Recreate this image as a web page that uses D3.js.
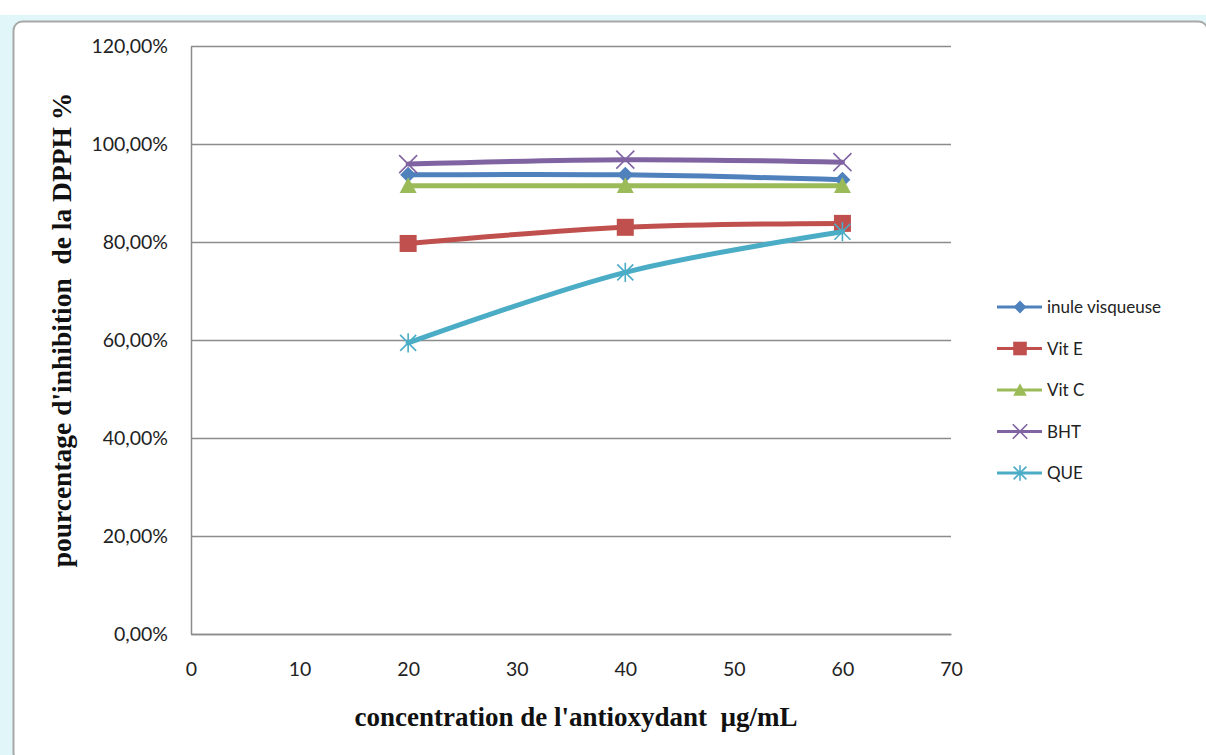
<!DOCTYPE html>
<html>
<head>
<meta charset="utf-8">
<script src="https://cdn.jsdelivr.net/npm/d3@7"></script>
<style>
  html, body { margin: 0; padding: 0; background: #fff; }
  svg { display: block; }
</style>
</head>
<body>
<svg id="chart" width="1206" height="755"></svg>
<script>
// Concentrations (µg/mL)
const concentrations = [20, 40, 60];

// Inhibition of DPPH (%) per antioxidant
const inuleVisqueuse = [93.7, 93.7, 92.7];
const vitE = [79.7, 83.0, 83.8];
const vitC = [91.5, 91.5, 91.5];
const bht = [95.9, 96.8, 96.3];
const que = [59.4, 73.8, 82.1];

const seriesNames = ["inule visqueuse", "Vit E", "Vit C", "BHT", "QUE"];
const seriesValues = [inuleVisqueuse, vitE, vitC, bht, que];
const seriesColors = ["#4F81BD", "#C0504D", "#9BBB59", "#8064A2", "#4BACC6"];
const seriesMarkers = ["diamond", "square", "triangle", "cross", "asterisk"];

const xTicks = [0, 10, 20, 30, 40, 50, 60, 70];
const yTicks = [0, 20, 40, 60, 80, 100, 120];

const svg = d3.select("#chart");

// Window frame
svg.append("rect").attr("x", 0).attr("y", 15).attr("width", 1206).attr("height", 740)
  .attr("fill", "#e0f6f8");
svg.append("rect").attr("x", 13.5).attr("y", 21.5).attr("width", 1194).attr("height", 740)
  .attr("rx", 9).attr("fill", "#fff").attr("stroke", "#a8a8a8").attr("stroke-width", 2);

const plot = { left: 191, right: 951, top: 46, bottom: 634 };

const x = d3.scaleLinear().domain([0, 70]).range([plot.left, plot.right]);
const y = d3.scaleLinear().domain([0, 120]).range([plot.bottom, plot.top]);

const fmtPct = d => d3.format(".2f")(d).replace(".", ",") + "%";
const tickFont = "Lato, 'Open Sans', sans-serif";

// Horizontal gridlines
svg.append("g")
  .attr("transform", `translate(${plot.left},0)`)
  .call(d3.axisLeft(y).tickValues(yTicks).tickSize(-(plot.right - plot.left)).tickFormat(""))
  .call(g => g.select(".domain").remove())
  .call(g => g.selectAll("line").attr("stroke", "#8c8c8c").attr("stroke-width", 1.5));

// Y axis
const yAxis = svg.append("g")
  .attr("transform", `translate(${plot.left},0)`)
  .call(d3.axisLeft(y).tickValues(yTicks).tickSize(0).tickPadding(23).tickFormat(fmtPct));
yAxis.select(".domain").attr("stroke", "#8c8c8c").attr("stroke-width", 1.5);
yAxis.selectAll("text")
  .attr("font-family", tickFont)
  .attr("font-size", 19.5).attr("fill", "#222");

// X axis
const xAxis = svg.append("g")
  .attr("transform", `translate(0,${plot.bottom})`)
  .call(d3.axisBottom(x).tickValues(xTicks).tickSize(0).tickPadding(28).tickFormat(d3.format("d")));
xAxis.select(".domain").attr("stroke", "#8c8c8c").attr("stroke-width", 1.5);
xAxis.selectAll("text")
  .attr("font-family", tickFont)
  .attr("font-size", 19.5).attr("fill", "#222");

// Axis titles
const titleFont = "'Liberation Serif', 'DejaVu Serif', serif";
svg.append("text")
  .attr("x", 576).attr("y", 726)
  .attr("text-anchor", "middle")
  .attr("font-family", titleFont)
  .attr("font-weight", "bold").attr("font-size", 27).attr("fill", "#111")
  .attr("xml:space", "preserve")
  .text("concentration de l'antioxydant  µg/mL");

svg.append("text")
  .attr("transform", "translate(71,330) rotate(-90)")
  .attr("text-anchor", "middle")
  .attr("font-family", titleFont)
  .attr("font-weight", "bold").attr("font-size", 27.5).attr("fill", "#111")
  .attr("xml:space", "preserve")
  .text("pourcentage d'inhibition  de la DPPH %");

// Marker drawing
function drawMarker(g, type, color, cx, cy, s) {
  if (type === "diamond") {
    g.append("path")
      .attr("d", `M${cx},${cy - s}L${cx + s},${cy}L${cx},${cy + s}L${cx - s},${cy}Z`)
      .attr("fill", color);
  } else if (type === "square") {
    g.append("rect").attr("x", cx - s).attr("y", cy - s)
      .attr("width", 2 * s).attr("height", 2 * s).attr("fill", color);
  } else if (type === "triangle") {
    g.append("path")
      .attr("d", `M${cx},${cy - s}L${cx + s},${cy + s * 0.85}L${cx - s},${cy + s * 0.85}Z`)
      .attr("fill", color);
  } else if (type === "cross") {
    g.append("path")
      .attr("d", `M${cx - s},${cy - s}L${cx + s},${cy + s}M${cx - s},${cy + s}L${cx + s},${cy - s}`)
      .attr("stroke", color).attr("stroke-width", 1.6).attr("fill", "none");
  } else if (type === "asterisk") {
    g.append("path")
      .attr("d", `M${cx - s},${cy - s}L${cx + s},${cy + s}M${cx - s},${cy + s}L${cx + s},${cy - s}M${cx},${cy - s * 1.2}L${cx},${cy + s * 1.2}`)
      .attr("stroke", color).attr("stroke-width", 1.6).attr("fill", "none");
  }
}

const markerSize = { diamond: 8, square: 8.5, triangle: 8.5, cross: 9, asterisk: 8 };

const line = d3.line()
  .x((d, i) => x(concentrations[i]))
  .y(d => y(d))
  .curve(d3.curveCatmullRom.alpha(0.5));

seriesValues.forEach((vals, k) => {
  const g = svg.append("g");
  g.append("path")
    .attr("d", line(vals))
    .attr("fill", "none")
    .attr("stroke", seriesColors[k])
    .attr("stroke-width", 5)
    .attr("stroke-linecap", "round")
    .attr("stroke-linejoin", "round");
  vals.forEach((v, i) => {
    drawMarker(g, seriesMarkers[k], seriesColors[k], x(concentrations[i]), y(v), markerSize[seriesMarkers[k]]);
  });
});

// Legend
const legend = svg.append("g");
const legendTop = 307, legendStep = 41.5;
seriesNames.forEach((name, k) => {
  const ly = legendTop + k * legendStep;
  const g = legend.append("g");
  g.append("line")
    .attr("x1", 997).attr("x2", 1042).attr("y1", ly).attr("y2", ly)
    .attr("stroke", seriesColors[k]).attr("stroke-width", 3);
  drawMarker(g, seriesMarkers[k], seriesColors[k], 1020, ly, markerSize[seriesMarkers[k]] * 0.8);
  g.append("text")
    .attr("x", 1047).attr("y", ly + 6)
    .attr("font-family", tickFont)
    .attr("font-size", 17).attr("fill", "#222")
    .text(name);
});
</script>
</body>
</html>
